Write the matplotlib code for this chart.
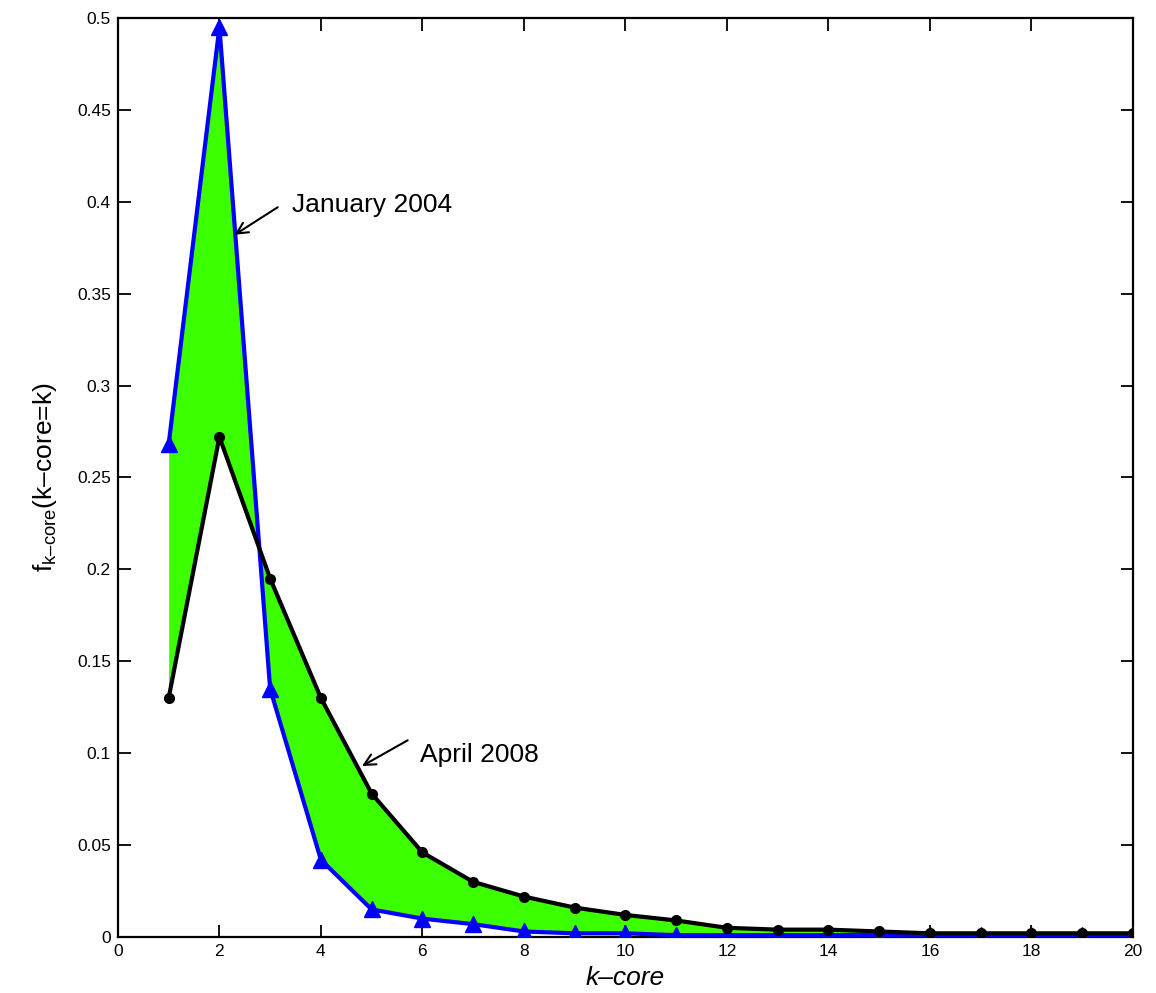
import matplotlib
matplotlib.use("Agg")
import matplotlib.pyplot as plt
import numpy as np

plt.rcParams['font.family'] = ['Liberation Sans', 'DejaVu Sans']
plt.rcParams['mathtext.fontset'] = 'custom'
plt.rcParams['mathtext.rm'] = 'Liberation Sans'

k = [1, 2, 3, 4, 5, 6, 7, 8, 9, 10, 11, 12, 13, 14, 15, 16, 17, 18, 19, 20]
jan2004 = [0.268, 0.495, 0.135, 0.042, 0.015, 0.010, 0.007, 0.003, 0.002, 0.002,
           0.001, 0.001, 0.001, 0.001, 0.001, 0.001, 0.001, 0.001, 0.001, 0.001]
apr2008 = [0.130, 0.272, 0.195, 0.130, 0.078, 0.046, 0.030, 0.022, 0.016, 0.012,
           0.009, 0.005, 0.004, 0.004, 0.003, 0.002, 0.002, 0.002, 0.002, 0.002]
xticks = list(range(0, 21, 2))
yticks = [0, 0.05, 0.1, 0.15, 0.2, 0.25, 0.3, 0.35, 0.4, 0.45, 0.5]
yticklabels = ['0', '0.05', '0.1', '0.15', '0.2', '0.25', '0.3', '0.35', '0.4', '0.45', '0.5']

fig = plt.figure(figsize=(11.56, 9.93), dpi=100)
ax = fig.add_axes([0.102, 0.0564, 0.878, 0.9256])

ax.fill_between(k, jan2004, apr2008, color='#3cff00', interpolate=True, linewidth=0, zorder=1)
ax.plot(k, jan2004, color='#0000ff', lw=3, marker='^', ms=11, mfc='#0000ff', mec='#0000ff', zorder=3)
ax.plot(k, apr2008, color='black', lw=3, marker='o', ms=7, mfc='black', mec='black', zorder=4)

ax.set_xlim(0, 20)
ax.set_ylim(0, 0.5)
ax.set_xticks(xticks)
ax.set_yticks(yticks)
ax.set_yticklabels(yticklabels)
ax.tick_params(direction='in', length=9, width=1.3, top=True, right=True, labelsize=12.5, pad=5)
for s in ax.spines.values():
    s.set_linewidth(1.6)

ax.set_xlabel('k\u2013core', fontsize=19, style='italic')
ax.xaxis.set_label_coords(0.5, -0.032)
ax.set_ylabel('f$_{\\mathregular{k\u2013core}}$(k\u2013core=k)', fontsize=19)
ax.yaxis.set_label_coords(-0.058, 0.5)

ax.annotate('', xy=(2.30, 0.382), xytext=(3.15, 0.397),
            arrowprops=dict(arrowstyle='->', color='black', lw=1.5, shrinkA=0, shrinkB=0,
                            mutation_scale=20))
ax.text(3.43, 0.398, 'January 2004', fontsize=19, va='center', ha='left')
ax.annotate('', xy=(4.81, 0.093), xytext=(5.71, 0.107),
            arrowprops=dict(arrowstyle='->', color='black', lw=1.5, shrinkA=0, shrinkB=0,
                            mutation_scale=20))
ax.text(5.95, 0.099, 'April 2008', fontsize=19, va='center', ha='left')

fig.savefig('out.png', dpi=100)
